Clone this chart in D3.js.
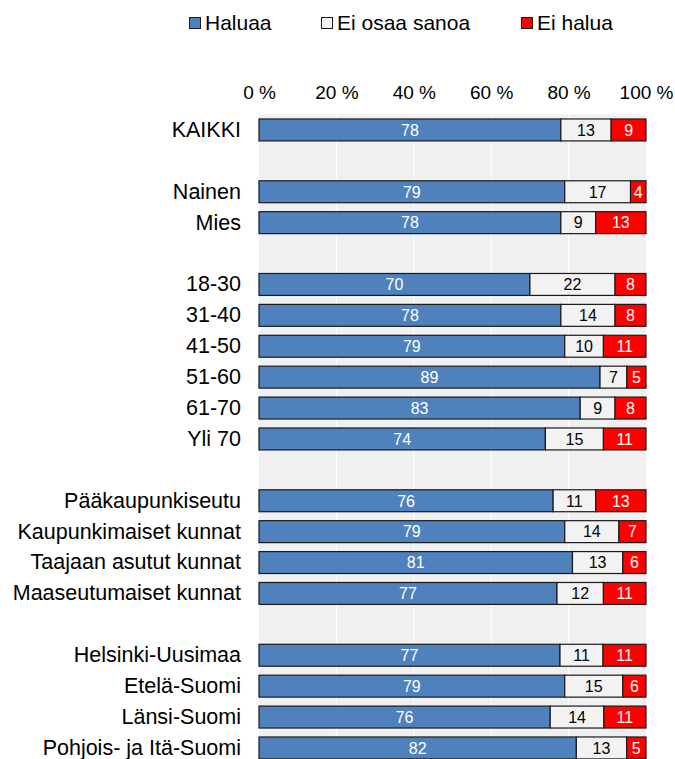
<!DOCTYPE html>
<html>
<head>
<meta charset="utf-8">
<script src="https://cdn.jsdelivr.net/npm/d3@7"></script>
<style>
  body { margin: 0; background: #fff; }
  svg { display: block; font-family: "Liberation Sans", Arial, sans-serif; }
</style>
</head>
<body>
<svg id="chart" width="675" height="759"></svg>
<script>
// rows, "" = empty spacer row between groups
var categories = ["KAIKKI", "", "Nainen", "Mies", "", "18-30", "31-40", "41-50", "51-60", "61-70", "Yli 70", "",
  "Pääkaupunkiseutu", "Kaupunkimaiset kunnat", "Taajaan asutut kunnat", "Maaseutumaiset kunnat", "",
  "Helsinki-Uusimaa", "Etelä-Suomi", "Länsi-Suomi", "Pohjois- ja Itä-Suomi"];
var haluaa  = [78, null, 79, 78, null, 70, 78, 79, 89, 83, 74, null, 76, 79, 81, 77, null, 77, 79, 76, 82];
var eiOsaa  = [13, null, 17,  9, null, 22, 14, 10,  7,  9, 15, null, 11, 14, 13, 12, null, 11, 15, 14, 13];
var eiHalua = [ 9, null,  4, 13, null,  8,  8, 11,  5,  8, 11, null, 13,  7,  6, 11, null, 11,  6, 11,  5];

var seriesNames = ["Haluaa", "Ei osaa sanoa", "Ei halua"];
var xTicks = [0, 20, 40, 60, 80, 100];

var colors = ["#4f81bd", "#f2f2f2", "#ff0000"];
var textColors = ["#fff", "#000", "#fff"];

var svg = d3.select("#chart");
var plotLeft = 259, plotRight = 646, plotTop = 114.5, step = 30.9;
var plotBottom = plotTop + step * categories.length;

var x = d3.scaleLinear().domain([0, 100]).range([plotLeft, plotRight]);
var y = d3.scaleBand()
  .domain(d3.range(categories.length))
  .range([plotTop, plotBottom])
  .paddingInner(0.29).paddingOuter(0.145);

// plot background + gridlines
svg.append("rect")
  .attr("x", plotLeft).attr("y", plotTop)
  .attr("width", plotRight - plotLeft).attr("height", plotBottom - plotTop)
  .attr("fill", "#f0f0f0");

svg.selectAll("line.grid")
  .data(xTicks.slice(1, -1))
  .enter().append("line")
  .attr("class", "grid")
  .attr("x1", function (d) { return x(d); })
  .attr("x2", function (d) { return x(d); })
  .attr("y1", plotTop).attr("y2", plotBottom)
  .attr("stroke", "#fff").attr("stroke-width", 1);

// top axis
var xAxis = svg.append("g")
  .attr("transform", "translate(0,99)")
  .call(d3.axisTop(x).tickValues(xTicks).tickSize(0).tickPadding(0)
    .tickFormat(function (d) { return d + " %"; }));
xAxis.select(".domain").remove();
xAxis.selectAll("text")
  .attr("font-size", 19).attr("font-family", "Liberation Sans, Arial, sans-serif")
  .attr("fill", "#000");

// category labels
var yAxis = svg.append("g")
  .attr("transform", "translate(" + plotLeft + ",0)")
  .call(d3.axisLeft(y).tickSize(0).tickPadding(18)
    .tickFormat(function (i) { return categories[i]; }));
yAxis.select(".domain").remove();
yAxis.selectAll("text")
  .attr("font-size", 21.5).attr("font-family", "Liberation Sans, Arial, sans-serif")
  .attr("fill", "#000");

// stacked segments
var rows = [];
categories.forEach(function (c, i) {
  if (haluaa[i] === null) return;
  var vals = [haluaa[i], eiOsaa[i], eiHalua[i]];
  var total = d3.sum(vals), acc = 0;
  vals.forEach(function (v, s) {
    rows.push({ i: i, s: s, v: v, x0: acc / total * 100, x1: (acc + v) / total * 100 });
    acc += v;
  });
});

var seg = svg.selectAll("g.seg")
  .data(rows)
  .enter().append("g")
  .attr("class", "seg");

seg.append("rect")
  .attr("x", function (d) { return x(d.x0); })
  .attr("y", function (d) { return y(d.i); })
  .attr("width", function (d) { return x(d.x1) - x(d.x0); })
  .attr("height", y.bandwidth())
  .attr("fill", function (d) { return colors[d.s]; })
  .attr("stroke", "#1a1a1a").attr("stroke-width", 1.2);

seg.append("text")
  .attr("x", function (d) { return (x(d.x0) + x(d.x1)) / 2; })
  .attr("y", function (d) { return y(d.i) + y.bandwidth() / 2; })
  .attr("dy", "0.36em")
  .attr("text-anchor", "middle")
  .attr("font-size", 16)
  .attr("fill", function (d) { return textColors[d.s]; })
  .text(function (d) { return d.v; });

// legend
var legendX = [189, 321, 521];
var legend = svg.selectAll("g.legend")
  .data(seriesNames)
  .enter().append("g")
  .attr("class", "legend")
  .attr("transform", function (d, i) { return "translate(" + legendX[i] + ",0)"; });

legend.append("rect")
  .attr("x", 0.5).attr("y", 17.5).attr("width", 11).attr("height", 11)
  .attr("fill", function (d, i) { return colors[i]; })
  .attr("stroke", "#1a1a1a").attr("stroke-width", 1);

legend.append("text")
  .attr("x", 16).attr("y", 30)
  .attr("font-size", 21)
  .attr("fill", "#000")
  .text(function (d) { return d; });
</script>
</body>
</html>
